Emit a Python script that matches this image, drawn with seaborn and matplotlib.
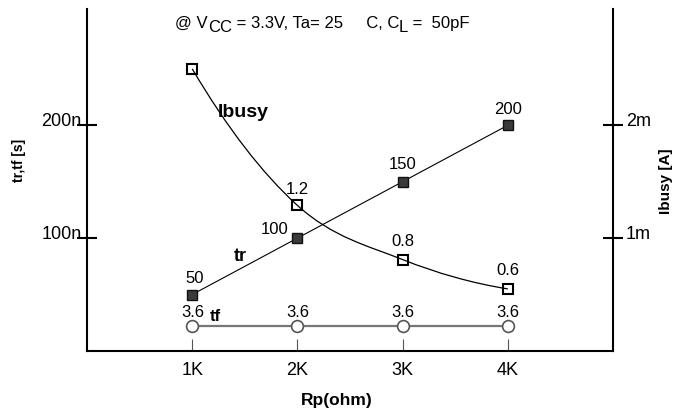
import matplotlib
matplotlib.use("Agg")
import matplotlib.pyplot as plt
import seaborn as sns
from matplotlib.path import Path
from matplotlib.patches import PathPatch

# x categories (pull-up resistor)
rp_pos = [1, 2, 3, 4]
rp_labels = ["1K", "2K", "3K", "4K"]

# rise time, ns
tr_ns = [50, 100, 150, 200]
tr_text = ["50", "100", "150", "200"]

# fall time: drawn low on the axis, labelled 3.6
tf_ns = [22, 22, 22, 22]
tf_text = ["3.6", "3.6", "3.6", "3.6"]

# busy current, mA (right axis)
ibusy_ma = [2.5, 1.29, 0.81, 0.55]
ibusy_text = ["", "1.2", "0.8", "0.6"]

# label offsets in points (layout only)
tr_off = [(1.4, 12.2), (-16.5, 7.2), (0, 13), (0, 12.2)]
tf_off = [(0.7, 10.8), (0, 10.8), (0, 10.8), (0, 10.8)]
ib_off = [(0, 0), (0, 12.2), (0, 13.7), (0, 13.7)]

# condition line: (text, is_subscript)
title_parts = [("@ V", False), ("CC", True), (" = 3.3V, Ta= 25     C, C", False),
               ("L", True), (" =  50pF", False)]


def smooth_path(xs, ys):
    """Cubic bezier through the points (quadratic end tangents)."""
    n = len(xs)
    tx = [0.0] * n
    ty = [0.0] * n
    for i in range(1, n - 1):
        tx[i] = (xs[i + 1] - xs[i - 1]) / 2
        ty[i] = (ys[i + 1] - ys[i - 1]) / 2
    tx[0] = 2 * (xs[1] - xs[0]) - tx[1]
    ty[0] = 2 * (ys[1] - ys[0]) - ty[1]
    tx[-1] = 2 * (xs[-1] - xs[-2]) - tx[-2]
    ty[-1] = 2 * (ys[-1] - ys[-2]) - ty[-2]
    verts = [(xs[0], ys[0])]
    codes = [Path.MOVETO]
    for i in range(n - 1):
        verts += [
            (xs[i] + tx[i] / 3, ys[i] + ty[i] / 3),
            (xs[i + 1] - tx[i + 1] / 3, ys[i + 1] - ty[i + 1] / 3),
            (xs[i + 1], ys[i + 1]),
        ]
        codes += [Path.CURVE4] * 3
    return Path(verts, codes)


sns.set_theme(style="white")
plt.rcParams["font.family"] = ["Liberation Sans", "DejaVu Sans"]
plt.rcParams["text.color"] = "black"
plt.rcParams["xtick.color"] = "black"
plt.rcParams["ytick.color"] = "black"
plt.rcParams["axes.labelcolor"] = "black"

fig = plt.figure(figsize=(6.74, 4.14), dpi=100)
ax = fig.add_axes([0.1291, 0.1498, 0.7804, 0.826])
ax2 = ax.twinx()

# tf line
sns.lineplot(x=rp_pos, y=tf_ns, ax=ax, color="#777777", lw=1.6, marker="o",
             ms=8.5, mfc="white", mec="#555555", mew=1.2)
# tr line
sns.lineplot(x=rp_pos, y=tr_ns, ax=ax, color="black", lw=0.8, marker="s",
             ms=7, mfc="#3a3a3a", mec="#111111", mew=1.0)

# Ibusy curve + markers on right axis
ax2.add_patch(PathPatch(smooth_path(rp_pos, ibusy_ma), fill=False,
                        edgecolor="black", lw=0.9))
sns.lineplot(x=rp_pos, y=ibusy_ma, ax=ax2, linestyle="none", marker="s",
             ms=7.5, mfc="none", mec="black", mew=1.5)

ax.set_xlim(0, 5)
ax.set_ylim(0, 303)
ax2.set_ylim(0, 3.03)

for x, y, t, o in zip(rp_pos, tr_ns, tr_text, tr_off):
    ax.annotate(t, (x, y), xytext=o, textcoords="offset points",
                ha="center", va="center", fontsize=12)
for x, y, t, o in zip(rp_pos, tf_ns, tf_text, tf_off):
    ax.annotate(t, (x, y), xytext=o, textcoords="offset points",
                ha="center", va="center", fontsize=12)
for x, y, t, o in zip(rp_pos, ibusy_ma, ibusy_text, ib_off):
    if t:
        ax2.annotate(t, (x, y), xytext=o, textcoords="offset points",
                     ha="center", va="center", fontsize=12)

# series names
ax.text(1.24, 212, "Ibusy", ha="left", va="center", fontsize=14, fontweight="bold")
ax.text(1.455, 85, "tr", ha="center", va="center", fontsize=13, fontweight="bold")
ax.text(1.17, 31, "tf", ha="left", va="center", fontsize=12, fontweight="bold")

# ticks
ax.set_xticks(rp_pos, rp_labels)
ax.tick_params(axis="x", direction="in", length=8.6, width=0.8, color="#555555",
               pad=7, labelsize=13, bottom=True)
ax.set_yticks([100, 200], ["100n", "200n"])
ax.tick_params(axis="y", direction="inout", length=15, width=1.5, color="black",
               pad=-3.7, labelsize=13, left=True)
for lbl in ax.get_yticklabels():
    lbl.set_va("baseline")
ax2.set_yticks([1, 2], ["1m", "2m"])
ax2.tick_params(axis="y", direction="inout", length=15, width=1.5, color="black",
                pad=1.9, labelsize=13, right=True)
for lbl in ax2.get_yticklabels():
    lbl.set_va("baseline")

for s in ["top", "right"]:
    ax.spines[s].set_visible(False)
for s in ["top", "left", "bottom"]:
    ax2.spines[s].set_visible(False)
for s in ["left", "bottom"]:
    ax.spines[s].set_linewidth(1.5)
    ax.spines[s].set_color("black")
ax2.spines["right"].set_linewidth(1.5)
ax2.spines["right"].set_color("black")

ax.set_xlabel("Rp(ohm)", fontsize=12.5, fontweight="bold")
ax.xaxis.set_label_coords(0.475, -0.142)
ax.xaxis.label.set_va("center")
ax.set_ylabel("tr,tf [s]", fontsize=10, fontweight="bold")
ax.yaxis.set_label_coords(-0.129, 0.561)
ax.yaxis.label.set_va("center")
ax2.set_ylabel("Ibusy [A]", fontsize=11, fontweight="bold", rotation=90)
ax2.yaxis.set_label_coords(1.1, 0.50)
ax2.yaxis.label.set_va("center")

# condition line, built from pieces so the subscripts keep full size
prev = fig.text(175 / 674, 1 - 28 / 414, title_parts[0][0],
                ha="left", va="baseline", fontsize=12)
prev_sub = False
for txt, sub in title_parts[1:]:
    dy = 0
    if sub and not prev_sub:
        dy = -2.6
    elif prev_sub and not sub:
        dy = 2.6
    prev = ax.annotate(txt, xy=(1, 0), xycoords=prev, xytext=(0, dy),
                       textcoords="offset points", ha="left", va="bottom",
                       fontsize=12, annotation_clip=False)
    prev_sub = sub

fig.savefig("out.png", dpi=100)
